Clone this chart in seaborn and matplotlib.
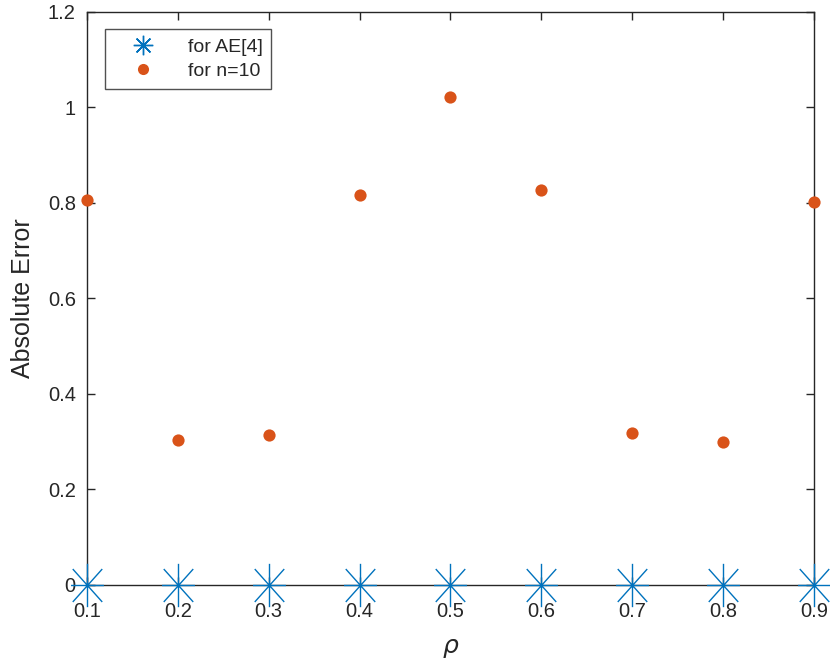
import numpy as np
import pandas as pd
import matplotlib
matplotlib.use("Agg")
import matplotlib.pyplot as plt
from matplotlib.path import Path
from matplotlib.lines import Line2D
import seaborn as sns
from matplotlib.ticker import FuncFormatter

rho = [0.1, 0.2, 0.3, 0.4, 0.5, 0.6, 0.7, 0.8, 0.9]
err_ae4 = [0, 0, 0, 0, 0, 0, 0, 0, 0]
err_n10 = [0.806, 0.304, 0.314, 0.816, 1.022, 0.827, 0.318, 0.299, 0.802]
y_ticks = [0, 0.2, 0.4, 0.6, 0.8, 1.0, 1.2]
labels = ["for AE[4]", "for n=10"]

sns.set_theme(style="white")
plt.rcParams['font.family'] = ['Liberation Sans', 'DejaVu Sans']

blue = "#0072BD"
orange = "#D95319"
txt = "#262626"

# vertically stretched asterisk marker (as in the reference image)
_sx, _dx, _dy = 0.76, 0.68, 0.76
star_path = Path(
    [(0, -1), (0, 1), (-_sx, 0), (_sx, 0),
     (-_dx, -_dy), (_dx, _dy), (-_dx, _dy), (_dx, -_dy)],
    [Path.MOVETO, Path.LINETO] * 4)

fig = plt.figure(figsize=(8.3, 6.59), dpi=100)
ax = fig.add_axes([0.1048, 0.1123, 0.9807 - 0.1048, 0.9818 - 0.1123])

df1 = pd.DataFrame({"rho": rho, "err": err_ae4})
df2 = pd.DataFrame({"rho": rho, "err": err_n10})

sns.scatterplot(data=df1, x="rho", y="err", ax=ax, marker=star_path, s=31.2**2,
                color=blue, linewidth=1.0, edgecolor=blue,
                clip_on=False, zorder=3, legend=False)
sns.scatterplot(data=df2, x="rho", y="err", ax=ax, marker="o", s=8.8**2,
                color=orange, linewidth=0, clip_on=False, zorder=3, legend=False)

ax.set_xlim(0.1, 0.9)
ax.set_ylim(0, 1.2)
ax.set_xticks(rho)
ax.set_yticks(y_ticks)
ax.yaxis.set_major_formatter(FuncFormatter(lambda v, p: f"{v:g}"))
ax.xaxis.set_major_formatter(FuncFormatter(lambda v, p: f"{v:g}"))

for s in ax.spines.values():
    s.set_color(txt)
    s.set_linewidth(1.0)
    s.set_zorder(2)

ax.tick_params(axis="both", which="major", direction="in", length=6, width=1,
               color=txt, labelcolor=txt, labelsize=14.5, top=True, right=True,
               bottom=True, left=True)
ax.tick_params(axis="x", pad=12)
ax.tick_params(axis="y", pad=8)

ax.set_xlabel(r"$\rho$", fontsize=18, color=txt, labelpad=11)
ax.set_ylabel("Absolute Error", fontsize=18, color=txt, labelpad=9)

handles = [
    Line2D([], [], ls="none", marker=(8, 2, 0), markersize=14, color=blue,
           markeredgewidth=1.0),
    Line2D([], [], ls="none", marker="o", markersize=8, color=orange,
           markeredgewidth=0),
]
leg = ax.legend(handles, labels, loc="upper left", bbox_to_anchor=(0.0248, 0.970),
                borderaxespad=0, fontsize=14, frameon=True, fancybox=False,
                edgecolor=txt, borderpad=0.45, handlelength=3.0,
                handletextpad=0.8, labelspacing=0.35)
leg.get_frame().set_linewidth(1.0)
for t in leg.get_texts():
    t.set_color(txt)

fig.savefig("out.png", dpi=100)
